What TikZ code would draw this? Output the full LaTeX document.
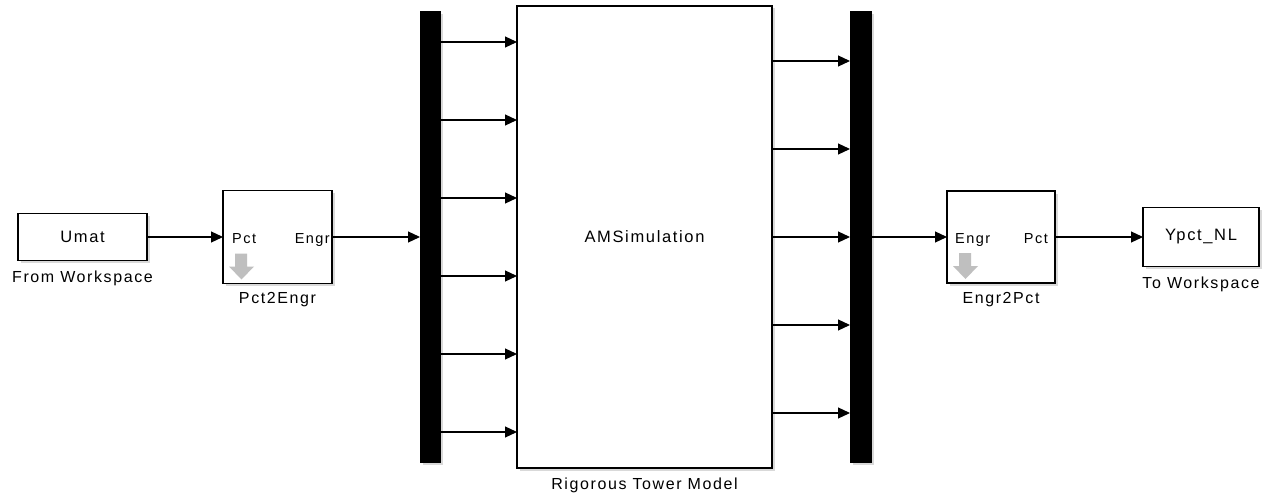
\documentclass[tikz,border=0pt]{standalone}
\usepackage{fontspec}
\setmainfont{Liberation Sans}[LetterSpace=10]
\usepackage{tikz}
\usetikzlibrary{arrows.meta,positioning,shadows}
\tikzset{
  blk/.style={draw=black,fill=white,line width=1.3pt,inner sep=0pt,outer sep=0pt,
    drop shadow={shadow xshift=2.5pt,shadow yshift=-2.5pt,opacity=0.3},
    font=\fontsize{16.5pt}{18pt}\selectfont,align=center},
  busbar/.style={draw=black,fill=black,inner sep=0pt,outer sep=0pt,
    minimum width=20pt,minimum height=451pt,
    drop shadow={shadow xshift=2.5pt,shadow yshift=-2.5pt,opacity=0.3}},
  portlbl/.style={inner sep=0pt,font=\fontsize{14.5pt}{16pt}\selectfont},
  lbl/.style={inner sep=0pt,font=\fontsize{16pt}{18pt}\selectfont},
  sig/.style={-{Triangle[length=12pt,width=11pt]},line width=1.2pt},
  icon/.style={fill=black!25},
}
\begin{document}
\begin{tikzpicture}[x=1pt,y=1pt]
  \useasboundingbox (0,0) rectangle (1267,-495);

  \node[blk,minimum width=129pt,minimum height=47pt] (umat) at (82.5,-237) {Umat};
  \node[blk,minimum width=109pt,minimum height=93pt,right=76pt of umat] (p2e) {};
  \node[busbar,right=88pt of p2e] (mux) {};
  \node[blk,minimum width=255pt,minimum height=462pt,right=77pt of mux] (tower) {AMSimulation};
  \node[busbar,minimum width=21pt,right=78pt of tower] (demux) {};
  \node[blk,minimum width=108pt,minimum height=92pt,right=76pt of demux] (e2p) {};
  \node[blk,minimum width=116pt,minimum height=59pt,right=88pt of e2p] (ypct) {Ypct\_NL};

  \node[lbl,below=10pt of umat] (umat_lbl) {From Workspace};
  \node[lbl,below=9pt of p2e] (p2e_lbl) {Pct2Engr};
  \node[lbl,below=10pt of tower] (tower_lbl) {Rigorous Tower Model};
  \node[lbl,below=9pt of e2p] (e2p_lbl) {Engr2Pct};
  \node[lbl,below=10pt of ypct] (ypct_lbl) {To Workspace};

  \node[portlbl,anchor=base west] (p2e_in) at ([xshift=9pt,yshift=-6pt]p2e.west) {Pct};
  \node[portlbl,anchor=base east] (p2e_out) at ([xshift=-2pt,yshift=-6pt]p2e.east) {Engr};
  \node[portlbl,anchor=base west] (e2p_in) at ([xshift=8pt,yshift=-6pt]e2p.west) {Engr};
  \node[portlbl,anchor=base east] (e2p_out) at ([xshift=-7pt,yshift=-6pt]e2p.east) {Pct};

  \fill[icon,shift={(p2e.south west)}] (12,30) -- (24,30) -- (24,17) -- (31,17) -- (18.5,4) -- (6,17) -- (12,17) -- cycle;
  \fill[icon,shift={(e2p.south west)}] (12,30) -- (24,30) -- (24,17) -- (31,17) -- (18.5,4) -- (6,17) -- (12,17) -- cycle;

  \draw[sig] (umat) -- (p2e);
  \draw[sig] (p2e) -- (mux);
  \foreach \dy in {-195,-117,-39,39,117,195}
    \draw[sig] ([yshift=\dy]mux.east) -- ([yshift=\dy]tower.west);
  \foreach \dy in {-176,-88,0,88,176}
    \draw[sig] ([yshift=\dy]tower.east) -- ([yshift=\dy]demux.west);
  \draw[sig] (demux) -- (e2p);
  \draw[sig] (e2p) -- (ypct);
\end{tikzpicture}
\end{document}
